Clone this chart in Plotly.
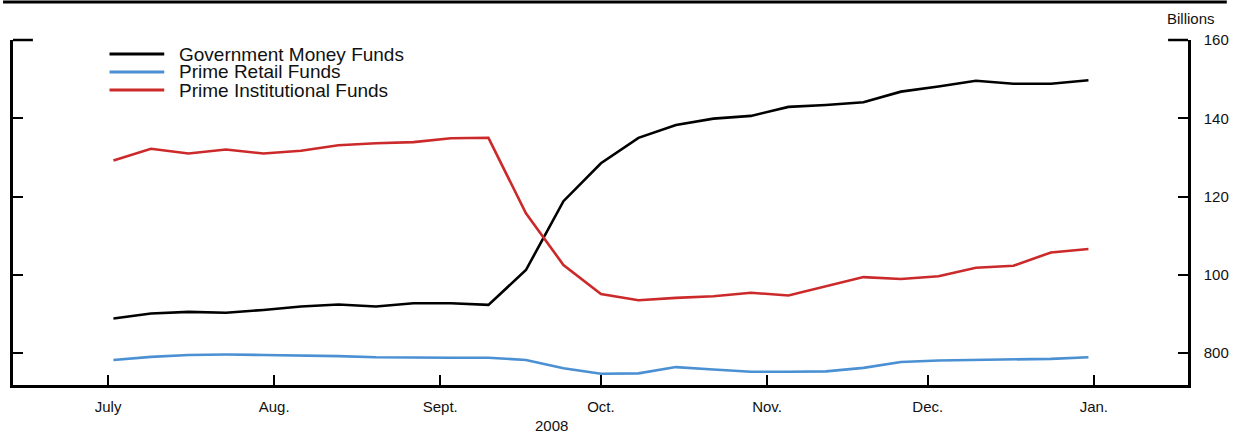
import plotly.graph_objects as go
import pandas as pd

# ---- data ----
dates = pd.date_range("2008-07-02", periods=27, freq="7D").strftime("%Y-%m-%d").tolist()

government_money = [88.8, 90.1, 90.5, 90.3, 91.0, 91.9, 92.4, 91.9, 92.7, 92.7, 92.3,
                    101.2, 118.8, 128.5, 135.0, 138.3, 139.9, 140.6, 142.9, 143.4,
                    144.1, 146.8, 148.1, 149.6, 148.8, 148.8, 149.7]
prime_retail = [78.2, 79.0, 79.5, 79.6, 79.5, 79.4, 79.2, 78.9, 78.8, 78.8, 78.8,
                78.2, 76.1, 74.7, 74.8, 76.4, 75.8, 75.2, 75.2, 75.3,
                76.2, 77.7, 78.1, 78.2, 78.4, 78.5, 78.9]
prime_institutional = [129.2, 132.2, 131.0, 132.0, 131.0, 131.7, 133.1, 133.6, 133.9, 134.9, 135.0,
                       115.7, 102.5, 95.1, 93.5, 94.1, 94.5, 95.4, 94.7, 97.0,
                       99.4, 98.9, 99.6, 101.8, 102.3, 105.7, 106.6]

series_names = ["Government Money Funds", "Prime Retail Funds", "Prime Institutional Funds"]
series_colors = ["#000000", "#4a90d2", "#cc2a2a"]

month_ticks = ["2008-07-01", "2008-08-01", "2008-09-01", "2008-10-01",
               "2008-11-01", "2008-12-01", "2009-01-01"]
month_labels = ["July", "Aug.", "Sept.", "Oct.", "Nov.", "Dec.", "Jan."]
y_ticks = [80, 100, 120, 140, 160]
y_labels = ["800", "100", "120", "140", "160"]

# ---- figure ----
W, H = 1239, 435
L, R, T, B = 10, 48, 40, 50
pw, ph = W - L - R, H - T - B

def px_x(p):
    return (p - L) / pw

def px_y(p):
    return (H - B - p) / ph

fig = go.Figure()
for name, vals, col in zip(series_names,
                           [government_money, prime_retail, prime_institutional],
                           series_colors):
    fig.add_trace(go.Scatter(x=dates, y=vals, mode="lines", name=name,
                             line=dict(color=col, width=2.6), showlegend=False))

font_family = "Liberation Sans, Arial, sans-serif"
text_color = "#111111"

shapes = []
annotations = []

# top rule across the page
shapes.append(dict(type="line", xref="paper", yref="paper",
                   x0=px_x(0), x1=px_x(1230), y0=px_y(2), y1=px_y(2),
                   line=dict(color="black", width=3)))
# top stubs of the frame at 160
shapes.append(dict(type="line", xref="paper", yref="paper",
                   x0=0, x1=px_x(L + 20), y0=1, y1=1,
                   line=dict(color="black", width=2.5)))
shapes.append(dict(type="line", xref="paper", yref="paper",
                   x0=px_x(W - R - 20), x1=1, y0=1, y1=1,
                   line=dict(color="black", width=2.5)))

# manual legend
leg_y = [54, 72, 90]
for name, col, yy in zip(series_names, series_colors, leg_y):
    shapes.append(dict(type="line", xref="paper", yref="paper",
                       x0=px_x(107), x1=px_x(162), y0=px_y(yy), y1=px_y(yy),
                       line=dict(color=col, width=3)))
    annotations.append(dict(text=name, xref="paper", yref="paper",
                            x=px_x(175), y=px_y(yy), xanchor="left", yanchor="middle",
                            showarrow=False,
                            font=dict(size=19, color=text_color, family=font_family)))

annotations.append(dict(text="Billions", xref="paper", yref="paper",
                        x=px_x(1194), y=px_y(19), xanchor="center", yanchor="middle",
                        showarrow=False, font=dict(size=15, color=text_color, family=font_family)))
annotations.append(dict(text="2008", xref="paper", yref="paper",
                        x=px_x(551), y=px_y(426), xanchor="center", yanchor="middle",
                        showarrow=False, font=dict(size=15, color=text_color, family=font_family)))

fig.update_layout(
    width=W, height=H,
    margin=dict(l=L, r=R, t=T, b=B, pad=0),
    paper_bgcolor="white", plot_bgcolor="white",
    font=dict(family=font_family, size=15, color=text_color),
    shapes=shapes, annotations=annotations,
    xaxis=dict(type="date", range=["2008-06-13 06:00", "2009-01-18 14:00"],
               tickmode="array", tickvals=month_ticks, ticktext=month_labels,
               ticks="inside", ticklen=10, tickwidth=2, tickcolor="black",
               showline=True, linewidth=2.5, linecolor="black",
               showgrid=False, zeroline=False, ticklabelstandoff=6,
               tickfont=dict(size=15, color=text_color)),
    yaxis=dict(side="right", range=[71.82, 160],
               tickmode="array", tickvals=y_ticks, ticktext=y_labels,
               ticks="inside", ticklen=10, tickwidth=2, tickcolor="black",
               showline=True, linewidth=2.5, linecolor="black", mirror="ticks",
               showgrid=False, zeroline=False, ticklabelstandoff=10,
               tickfont=dict(size=15, color=text_color)),
)

fig.write_html("out.html", config={"displayModeBar": False},
               post_script="document.body.style.margin='0px';document.body.style.overflow='hidden';")
